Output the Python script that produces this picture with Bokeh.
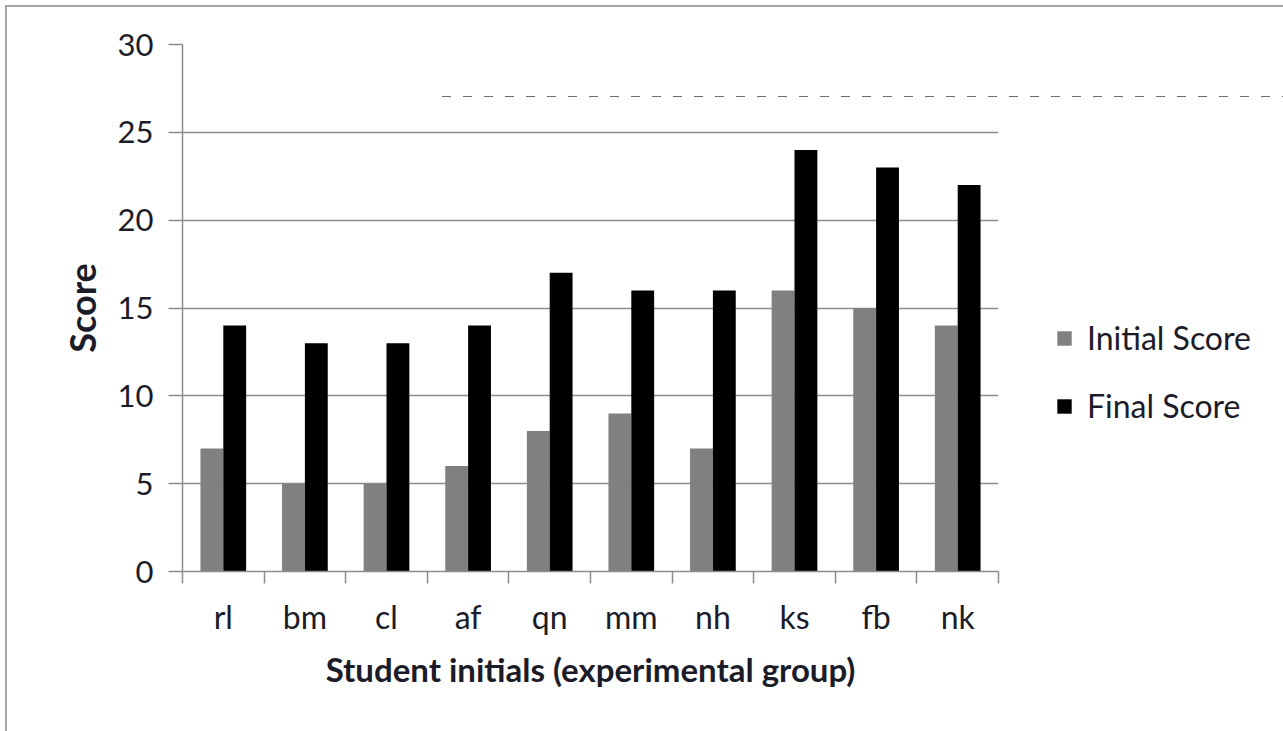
from bokeh.plotting import figure
from bokeh.models import Range1d, FixedTicker, Legend, LegendItem, ColumnDataSource
from bokeh.transform import dodge
from bokeh.embed import file_html
from bokeh.resources import INLINE

# data
students = ["rl", "bm", "cl", "af", "qn", "mm", "nh", "ks", "fb", "nk"]
initial_score = [7, 5, 5, 6, 8, 9, 7, 16, 15, 14]
final_score = [14, 13, 13, 14, 17, 16, 16, 24, 23, 22]
y_ticks = [0, 5, 10, 15, 20, 25, 30]

FONT = "Lato"
TEXT = "#1c1c28"
LINE_GRAY = "#8c8c8c"

# plot geometry (pixels)
FRAME_L, FRAME_T, FRAME_W, FRAME_H = 182, 44, 816, 527
PAGE_W, PAGE_H = 1283, 731

n = len(students)
centers = [i + 0.5 for i in range(n)]
src = ColumnDataSource(dict(pos=centers, initial=initial_score, final=final_score))

# chart-area border (top/left edges) and the dashed guide line, painted behind the canvas
BORDER = "#a6a6a6"
chart_bg = (
    f"linear-gradient({BORDER}, {BORDER}) 5px 5px / calc(100% - 5px) 2px no-repeat, "
    f"linear-gradient({BORDER}, {BORDER}) 5px 5px / 2px calc(100% - 5px) no-repeat, "
    "repeating-linear-gradient(to right, #707070 0px, #707070 9px, transparent 9px, transparent 21px) "
    "442px 96px / 841px 1px no-repeat, #ffffff"
)

p = figure(
    frame_width=FRAME_W, frame_height=FRAME_H,
    min_border_left=FRAME_L, min_border_right=PAGE_W - FRAME_L - FRAME_W,
    min_border_top=FRAME_T, min_border_bottom=PAGE_H - FRAME_T - FRAME_H,
    x_range=Range1d(0, n), y_range=Range1d(0, 30),
    output_backend="svg", toolbar_location=None,
    background_fill_color=None, border_fill_color=None,
    outline_line_color=None,
    styles={"background": chart_bg},
)

bar_w = 0.28
r_init = p.vbar(x=dodge("pos", -bar_w / 2, range=p.x_range), top="initial", width=bar_w,
                source=src, fill_color="#808080", line_color=None)
r_final = p.vbar(x=dodge("pos", bar_w / 2, range=p.x_range), top="final", width=bar_w,
                 source=src, fill_color="#000000", line_color=None)

# grid
p.xgrid.visible = False
p.ygrid.ticker = FixedTicker(ticks=y_ticks)
p.ygrid.grid_line_color = LINE_GRAY
p.ygrid.grid_line_width = 1.5

# y axis
ya = p.yaxis[0]
ya.ticker = FixedTicker(ticks=y_ticks)
ya.axis_line_color = LINE_GRAY
ya.axis_line_width = 1.5
ya.major_tick_line_color = LINE_GRAY
ya.major_tick_line_width = 1.5
ya.major_tick_out = 14
ya.major_tick_in = 0
ya.minor_tick_line_color = None
ya.major_label_text_font = FONT
ya.major_label_text_font_size = "31px"
ya.major_label_text_color = TEXT
ya.major_label_standoff = 15
ya.axis_label = "Score"
ya.axis_label_text_font = FONT
ya.axis_label_text_font_style = "bold"
ya.axis_label_text_font_size = "36px"
ya.axis_label_text_color = TEXT
ya.axis_label_standoff = 11

# x axis: labels at category centres, ticks on category boundaries
xa = p.xaxis[0]
xa.ticker = FixedTicker(ticks=centers, minor_ticks=list(range(n + 1)))
xa.major_label_overrides = {c: s for c, s in zip(centers, students)}
xa.axis_line_color = LINE_GRAY
xa.axis_line_width = 1.5
xa.major_tick_line_color = None
xa.major_tick_out = 12
xa.major_tick_in = 0
xa.minor_tick_line_color = LINE_GRAY
xa.minor_tick_line_width = 1.5
xa.minor_tick_out = 12
xa.minor_tick_in = 0
xa.major_label_text_font = FONT
xa.major_label_text_font_size = "32px"
xa.major_label_text_color = TEXT
xa.major_label_standoff = 13
xa.axis_label = "Student initials (experimental group)"
xa.axis_label_text_font = FONT
xa.axis_label_text_font_style = "bold"
xa.axis_label_text_font_size = "33px"
xa.axis_label_text_color = TEXT
xa.axis_label_standoff = 10

# legend in the right-hand panel
legend = Legend(
    items=[LegendItem(label="Initial Score", renderers=[r_init]),
           LegendItem(label="Final Score", renderers=[r_final])],
    location=(57, 146), orientation="vertical",
    glyph_width=18, glyph_height=18, label_standoff=14, label_height=18,
    spacing=29, padding=0, margin=0,
    border_line_color=None, background_fill_alpha=0,
    label_text_font=FONT, label_text_font_size="32px", label_text_color=TEXT,
)
p.add_layout(legend, "right")

open("out.html", "w").write(file_html(p, INLINE))
